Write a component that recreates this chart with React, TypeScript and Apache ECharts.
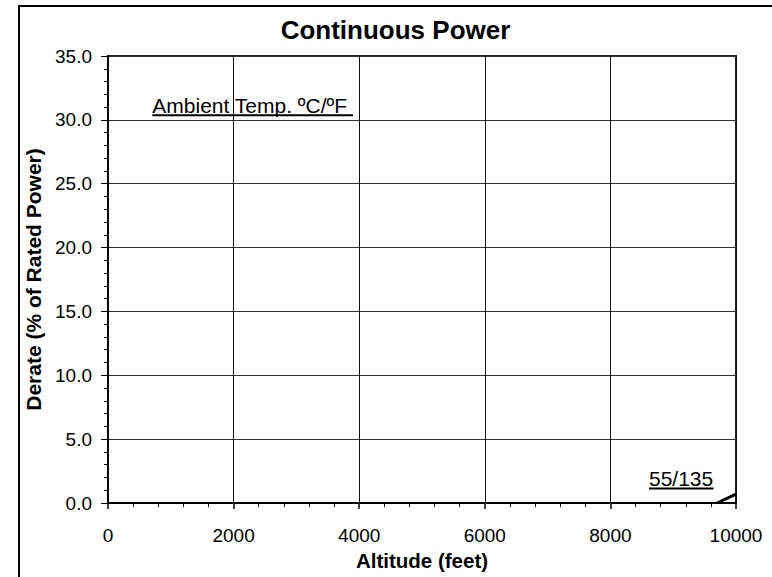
import React, { useEffect, useRef } from "react";
import * as echarts from "echarts";

const titleText = "Continuous Power";
const xAxisName = "Altitude (feet)";
const yAxisName = "Derate (% of Rated Power)";
const legendTitle = "Ambient Temp. ºC/ºF";
const seriesName = "55/135";
const altitude = [9700, 10000];
const derate = [0, 0.7];

const FONT = "'Liberation Sans', Arial, sans-serif";

export default function App() {
  const ref = useRef<HTMLDivElement>(null);
  useEffect(() => {
    if (!ref.current) return;
    const chart = echarts.init(ref.current, null, { renderer: "svg" });
    const data = altitude.map((x, i) => [x, derate[i]]);
    chart.setOption({
      animation: false,
      backgroundColor: "#fff",
      textStyle: { fontFamily: FONT, color: "#000" },
      grid: {
        left: 108,
        top: 56,
        right: 36,
        bottom: 74,
        show: true,
        borderColor: "#222",
        borderWidth: 2,
        backgroundColor: "transparent",
      },
      xAxis: {
        type: "value",
        min: 0,
        max: 10000,
        interval: 2000,
        name: xAxisName,
        nameLocation: "middle",
        nameGap: 42,
        nameTextStyle: { fontFamily: FONT, fontSize: 20.5, fontWeight: "bold", color: "#000" },
        axisLine: { show: true, lineStyle: { color: "#000", width: 2 } },
        axisTick: { show: true, length: 6, inside: false, lineStyle: { color: "#000", width: 1.5 } },
        minorTick: { show: true, splitNumber: 5, length: 4, lineStyle: { color: "#000", width: 1 } },
        axisLabel: {
          fontFamily: FONT,
          fontSize: 19,
          color: "#000",
          margin: 23,
          formatter: (v: number) => String(v),
        },
        splitLine: { show: true, lineStyle: { color: "#111", width: 1 } },
      },
      yAxis: {
        type: "value",
        min: 0,
        max: 35,
        interval: 5,
        name: yAxisName,
        nameLocation: "middle",
        nameGap: 49,
        nameTextStyle: { fontFamily: FONT, fontSize: 21, fontWeight: "bold", color: "#000" },
        axisLine: { show: true, lineStyle: { color: "#000", width: 1.5 } },
        axisTick: { show: true, length: 7, inside: false, lineStyle: { color: "#000", width: 1 } },
        minorTick: { show: true, splitNumber: 5, length: 4, lineStyle: { color: "#000", width: 1 } },
        axisLabel: {
          fontFamily: FONT,
          fontSize: 19,
          color: "#000",
          margin: 16,
          formatter: (v: number) => v.toFixed(1),
        },
        splitLine: { show: true, lineStyle: { color: "#333", width: 1 } },
      },
      series: [
        {
          name: seriesName,
          type: "line",
          data,
          showSymbol: false,
          symbol: "none",
          lineStyle: { color: "#000", width: 3 },
        },
      ],
      graphic: [
        {
          type: "rect",
          shape: { x: 19, y: 6, width: 760, height: 600 },
          style: { fill: "none", stroke: "#000", lineWidth: 2 },
          silent: true,
        },
        {
          type: "text",
          x: 395.5,
          y: 30,
          style: {
            text: titleText,
            font: `bold 26px ${FONT}`,
            fill: "#000",
            align: "center",
            verticalAlign: "middle",
          },
        },
        {
          type: "text",
          x: 152.3,
          y: 105.4,
          style: {
            text: legendTitle,
            font: `21px ${FONT}`,
            fill: "#000",
            align: "left",
            verticalAlign: "middle",
          },
        },
        {
          type: "line",
          shape: { x1: 152.3, y1: 115.3, x2: 353, y2: 115.3 },
          style: { stroke: "#000", lineWidth: 2 },
        },
        {
          type: "text",
          x: 649,
          y: 478.4,
          style: {
            text: seriesName,
            font: `21px ${FONT}`,
            fill: "#000",
            align: "left",
            verticalAlign: "middle",
          },
        },
        {
          type: "line",
          shape: { x1: 649, y1: 488.5, x2: 713.5, y2: 488.5 },
          style: { stroke: "#000", lineWidth: 2 },
        },
      ],
    });
    return () => chart.dispose();
  }, []);
  return (
    <div
      ref={ref}
      style={{ position: "fixed", left: 0, top: 0, width: 772, height: 577 }}
    />
  );
}
